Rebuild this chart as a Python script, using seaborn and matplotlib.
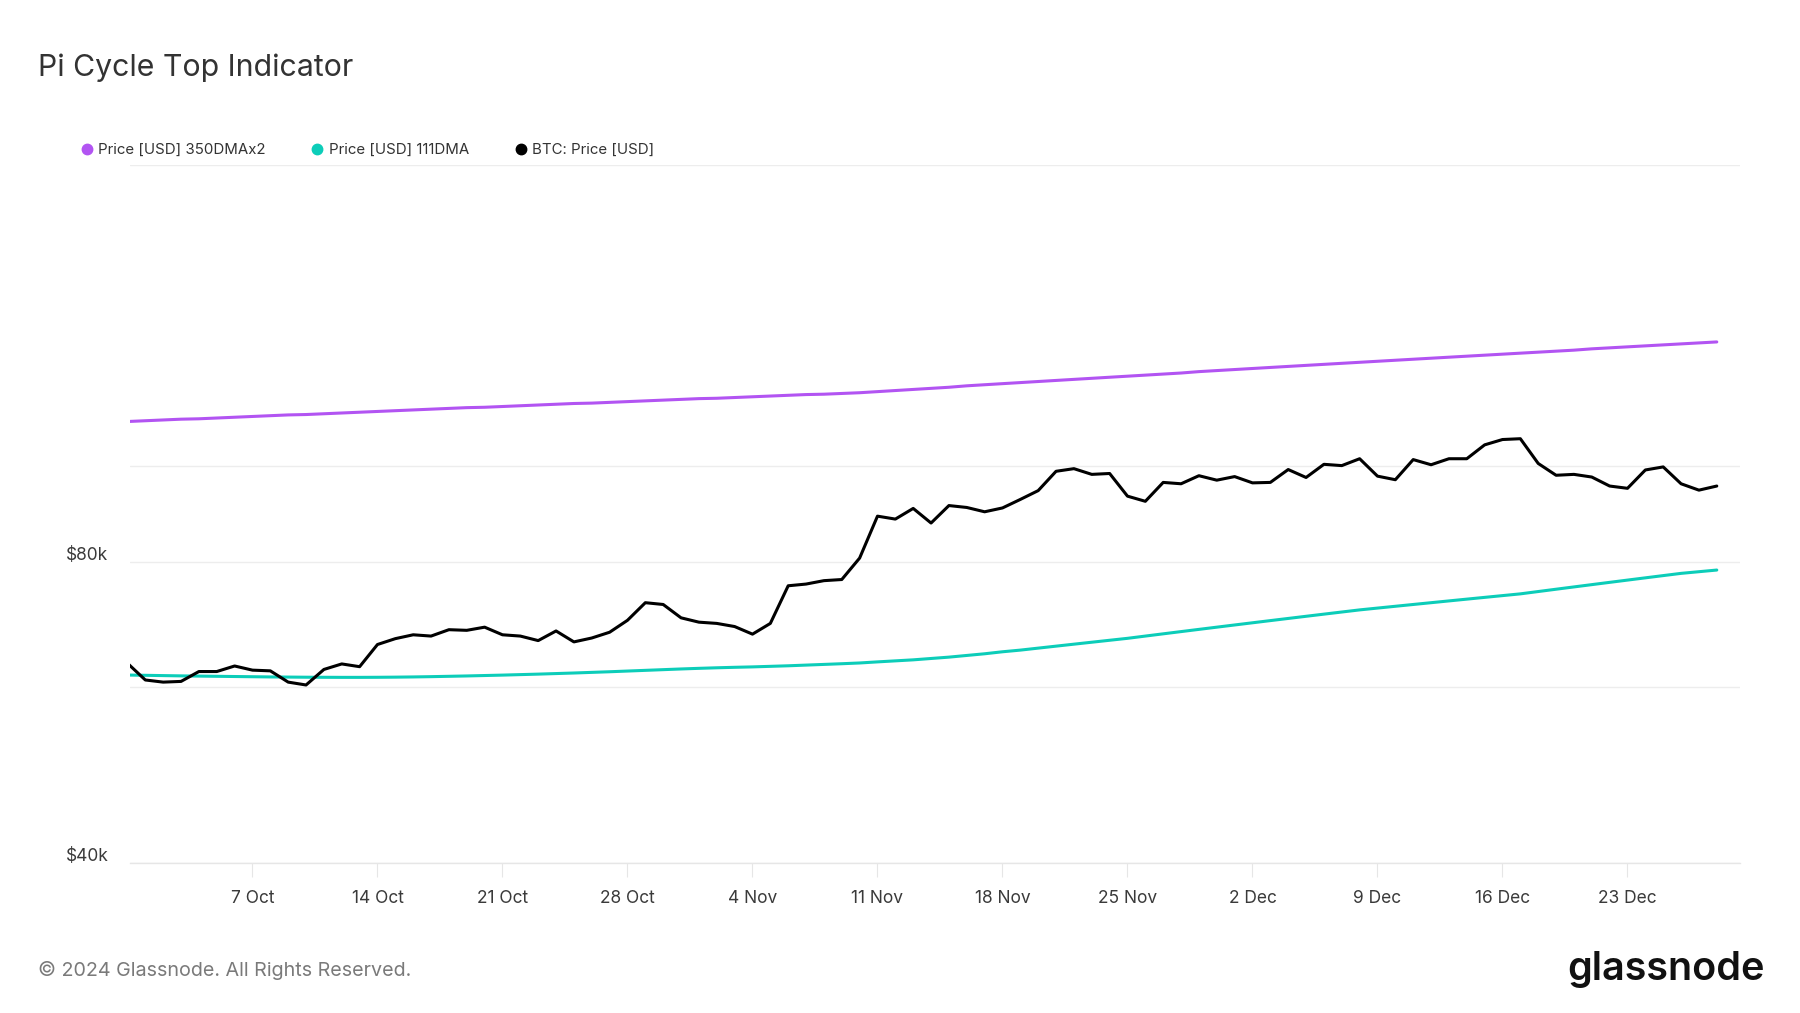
import numpy as np
import pandas as pd
import matplotlib
matplotlib.use('Agg')
import matplotlib.pyplot as plt
from matplotlib.lines import Line2D
from matplotlib.ticker import FixedLocator, NullFormatter, FixedFormatter
from matplotlib.transforms import ScaledTranslation
import seaborn as sns

# ---------------- data (values in thousands of USD) ----------------
start_date = '2024-09-30'
n_days = 90

btc_price_k = [
    63.4, 61.0, 60.7, 60.8, 62.2, 62.2, 63.0, 62.4, 62.3, 60.7,
    60.3, 62.5, 63.3, 62.9, 66.2, 67.1, 67.7, 67.5, 68.5, 68.4,
    68.9, 67.7, 67.5, 66.8, 68.3, 66.6, 67.2, 68.1, 70.0, 72.9,
    72.6, 70.4, 69.7, 69.5, 69.0, 67.8, 69.5, 75.8, 76.1, 76.7,
    76.9, 80.8, 89.0, 88.4, 90.6, 87.6, 91.2, 90.8, 89.9, 90.7,
    92.5, 94.4, 98.7, 99.3, 98.0, 98.2, 93.2, 92.1, 96.2, 95.9,
    97.7, 96.7, 97.5, 96.1, 96.2, 99.1, 97.3, 100.3, 100.0, 101.6,
    97.6, 96.8, 101.4, 100.2, 101.6, 101.6, 104.9, 106.2, 106.4, 100.5,
    97.8, 98.0, 97.4, 95.4, 94.9, 99.0, 99.7, 95.9, 94.5, 95.4,
]

dma350x2_k = [
    110.7, 110.9, 111.1, 111.3, 111.4, 111.6, 111.8, 112.0, 112.2, 112.4,
    112.5, 112.7, 112.9, 113.1, 113.3, 113.5, 113.7, 113.9, 114.1, 114.3,
    114.4, 114.6, 114.8, 115.0, 115.2, 115.4, 115.5, 115.7, 115.9, 116.1,
    116.3, 116.5, 116.7, 116.8, 117.0, 117.2, 117.4, 117.6, 117.8, 117.9,
    118.1, 118.3, 118.6, 118.9, 119.2, 119.5, 119.8, 120.2, 120.5, 120.8,
    121.1, 121.4, 121.7, 122.0, 122.3, 122.6, 122.9, 123.2, 123.5, 123.8,
    124.2, 124.5, 124.8, 125.1, 125.4, 125.7, 126.0, 126.3, 126.6, 126.9,
    127.2, 127.5, 127.8, 128.1, 128.4, 128.7, 129.0, 129.3, 129.6, 129.9,
    130.2, 130.5, 130.9, 131.2, 131.5, 131.8, 132.1, 132.4, 132.7, 133.0,
]

dma111_k = [
    61.70, 61.66, 61.62, 61.58, 61.55, 61.52, 61.49, 61.46, 61.43, 61.41,
    61.39, 61.38, 61.37, 61.37, 61.38, 61.40, 61.43, 61.47, 61.52, 61.57,
    61.63, 61.69, 61.76, 61.83, 61.91, 61.99, 62.08, 62.17, 62.27, 62.37,
    62.47, 62.57, 62.66, 62.74, 62.81, 62.87, 62.95, 63.03, 63.13, 63.23,
    63.33, 63.44, 63.60, 63.75, 63.90, 64.10, 64.30, 64.55, 64.80, 65.10,
    65.35, 65.65, 65.95, 66.25, 66.55, 66.85, 67.15, 67.50, 67.85, 68.20,
    68.55, 68.90, 69.25, 69.60, 69.95, 70.30, 70.65, 71.00, 71.35, 71.70,
    72.00, 72.30, 72.60, 72.90, 73.20, 73.50, 73.80, 74.10, 74.40, 74.80,
    75.20, 75.60, 76.00, 76.40, 76.80, 77.20, 77.60, 78.00, 78.30, 78.60,
]

series_names = ['Price [USD] 350DMAx2', 'Price [USD] 111DMA', 'BTC: Price [USD]']
series_colors = ['#b254f2', '#0ccdb9', '#000000']

x_tick_dates = ['2024-10-07', '2024-10-14', '2024-10-21', '2024-10-28', '2024-11-04',
                '2024-11-11', '2024-11-18', '2024-11-25', '2024-12-02', '2024-12-09',
                '2024-12-16', '2024-12-23']
x_tick_labels = ['7 Oct', '14 Oct', '21 Oct', '28 Oct', '4 Nov', '11 Nov', '18 Nov',
                 '25 Nov', '2 Dec', '9 Dec', '16 Dec', '23 Dec']
y_tick_values = [40000, 80000]
y_tick_labels = ['$40k', '$80k']
y_grid_values = [60000, 100000, 200000]

title_text = 'Pi Cycle Top Indicator'
footer_text = '\u00a9 2024 Glassnode. All Rights Reserved.'
logo_text = 'glassnode'

# ---------------- build long-form table ----------------
dates = pd.date_range(start_date, periods=n_days, freq='D')
frames = []
for name, vals in zip(series_names, [dma350x2_k, dma111_k, btc_price_k]):
    frames.append(pd.DataFrame({'date': dates, 'value': np.array(vals) * 1000.0, 'series': name}))
df = pd.concat(frames, ignore_index=True)

# ---------------- style ----------------
sns.set_theme(style='white')
plt.rcParams['font.family'] = ['Inter', 'DejaVu Sans']

W, H = 1800, 1013
fig = plt.figure(figsize=(W / 100, H / 100), dpi=100)
ax = fig.add_axes([130 / W, 1 - 863 / H, (1740 - 130) / W, (863 - 165) / H])

sns.lineplot(data=df, x='date', y='value', hue='series', hue_order=series_names,
             palette=dict(zip(series_names, series_colors)), linewidth=2.2,
             legend=False, ax=ax, sort=False)

ax.set_yscale('log')
ax.set_ylim(40000, 200000)
ax.set_xlim(dates[0] + pd.Timedelta(hours=3.4), dates[0] + pd.Timedelta(hours=90.3 * 24))

# x ticks
ax.set_xticks(pd.to_datetime(x_tick_dates))
ax.set_xticklabels(x_tick_labels)
ax.tick_params(axis='x', which='major', length=10, width=0.8, color='#e6e6e6',
               labelsize=12.5, labelcolor='#3a3a3a', pad=9.5, bottom=True)

# y ticks
ax.yaxis.set_major_locator(FixedLocator(y_tick_values))
ax.yaxis.set_major_formatter(FixedFormatter(y_tick_labels))
ax.yaxis.set_minor_locator(FixedLocator(y_grid_values))
ax.yaxis.set_minor_formatter(NullFormatter())
ax.tick_params(axis='y', which='both', length=0, labelsize=12.5, labelcolor='#3a3a3a', pad=15.5)
for lbl in ax.get_yticklabels():
    lbl.set_transform(lbl.get_transform() + ScaledTranslation(0, 9 / 100, fig.dpi_scale_trans))

ax.grid(False)
ax.grid(True, axis='y', which='both', color='#ededed', linewidth=1.0)
ax.set_xlabel('')
ax.set_ylabel('')
for s in ['top', 'right', 'left']:
    ax.spines[s].set_visible(False)
ax.spines['bottom'].set_color('#e6e6e6')
ax.spines['bottom'].set_linewidth(1.0)

# legend
handles = [Line2D([], [], marker='o', linestyle='none', markersize=7.5,
                  markerfacecolor=c, markeredgecolor=c) for c in series_colors]
fig.legend(handles, series_names, loc='center left', bbox_to_anchor=(80 / W, 1 - 150 / H),
           ncol=3, frameon=False, fontsize=10.8, handletextpad=0.3, columnspacing=3.0,
           handlelength=0.9, borderaxespad=0, borderpad=0, labelcolor='#333333')

# title, footer, logo
fig.text(38 / W, 1 - 68 / H, title_text, fontsize=21.8, color='#333333', ha='left', va='center')
fig.text(38 / W, 1 - 970 / H, footer_text, fontsize=14.2, color='#7a7a7a', ha='left', va='center')
fig.text(1765 / W, 1 - 970 / H, logo_text, fontsize=28.5, fontweight='semibold', color='#111111',
         ha='right', va='center')

fig.savefig('out.png', dpi=100, facecolor='white')
